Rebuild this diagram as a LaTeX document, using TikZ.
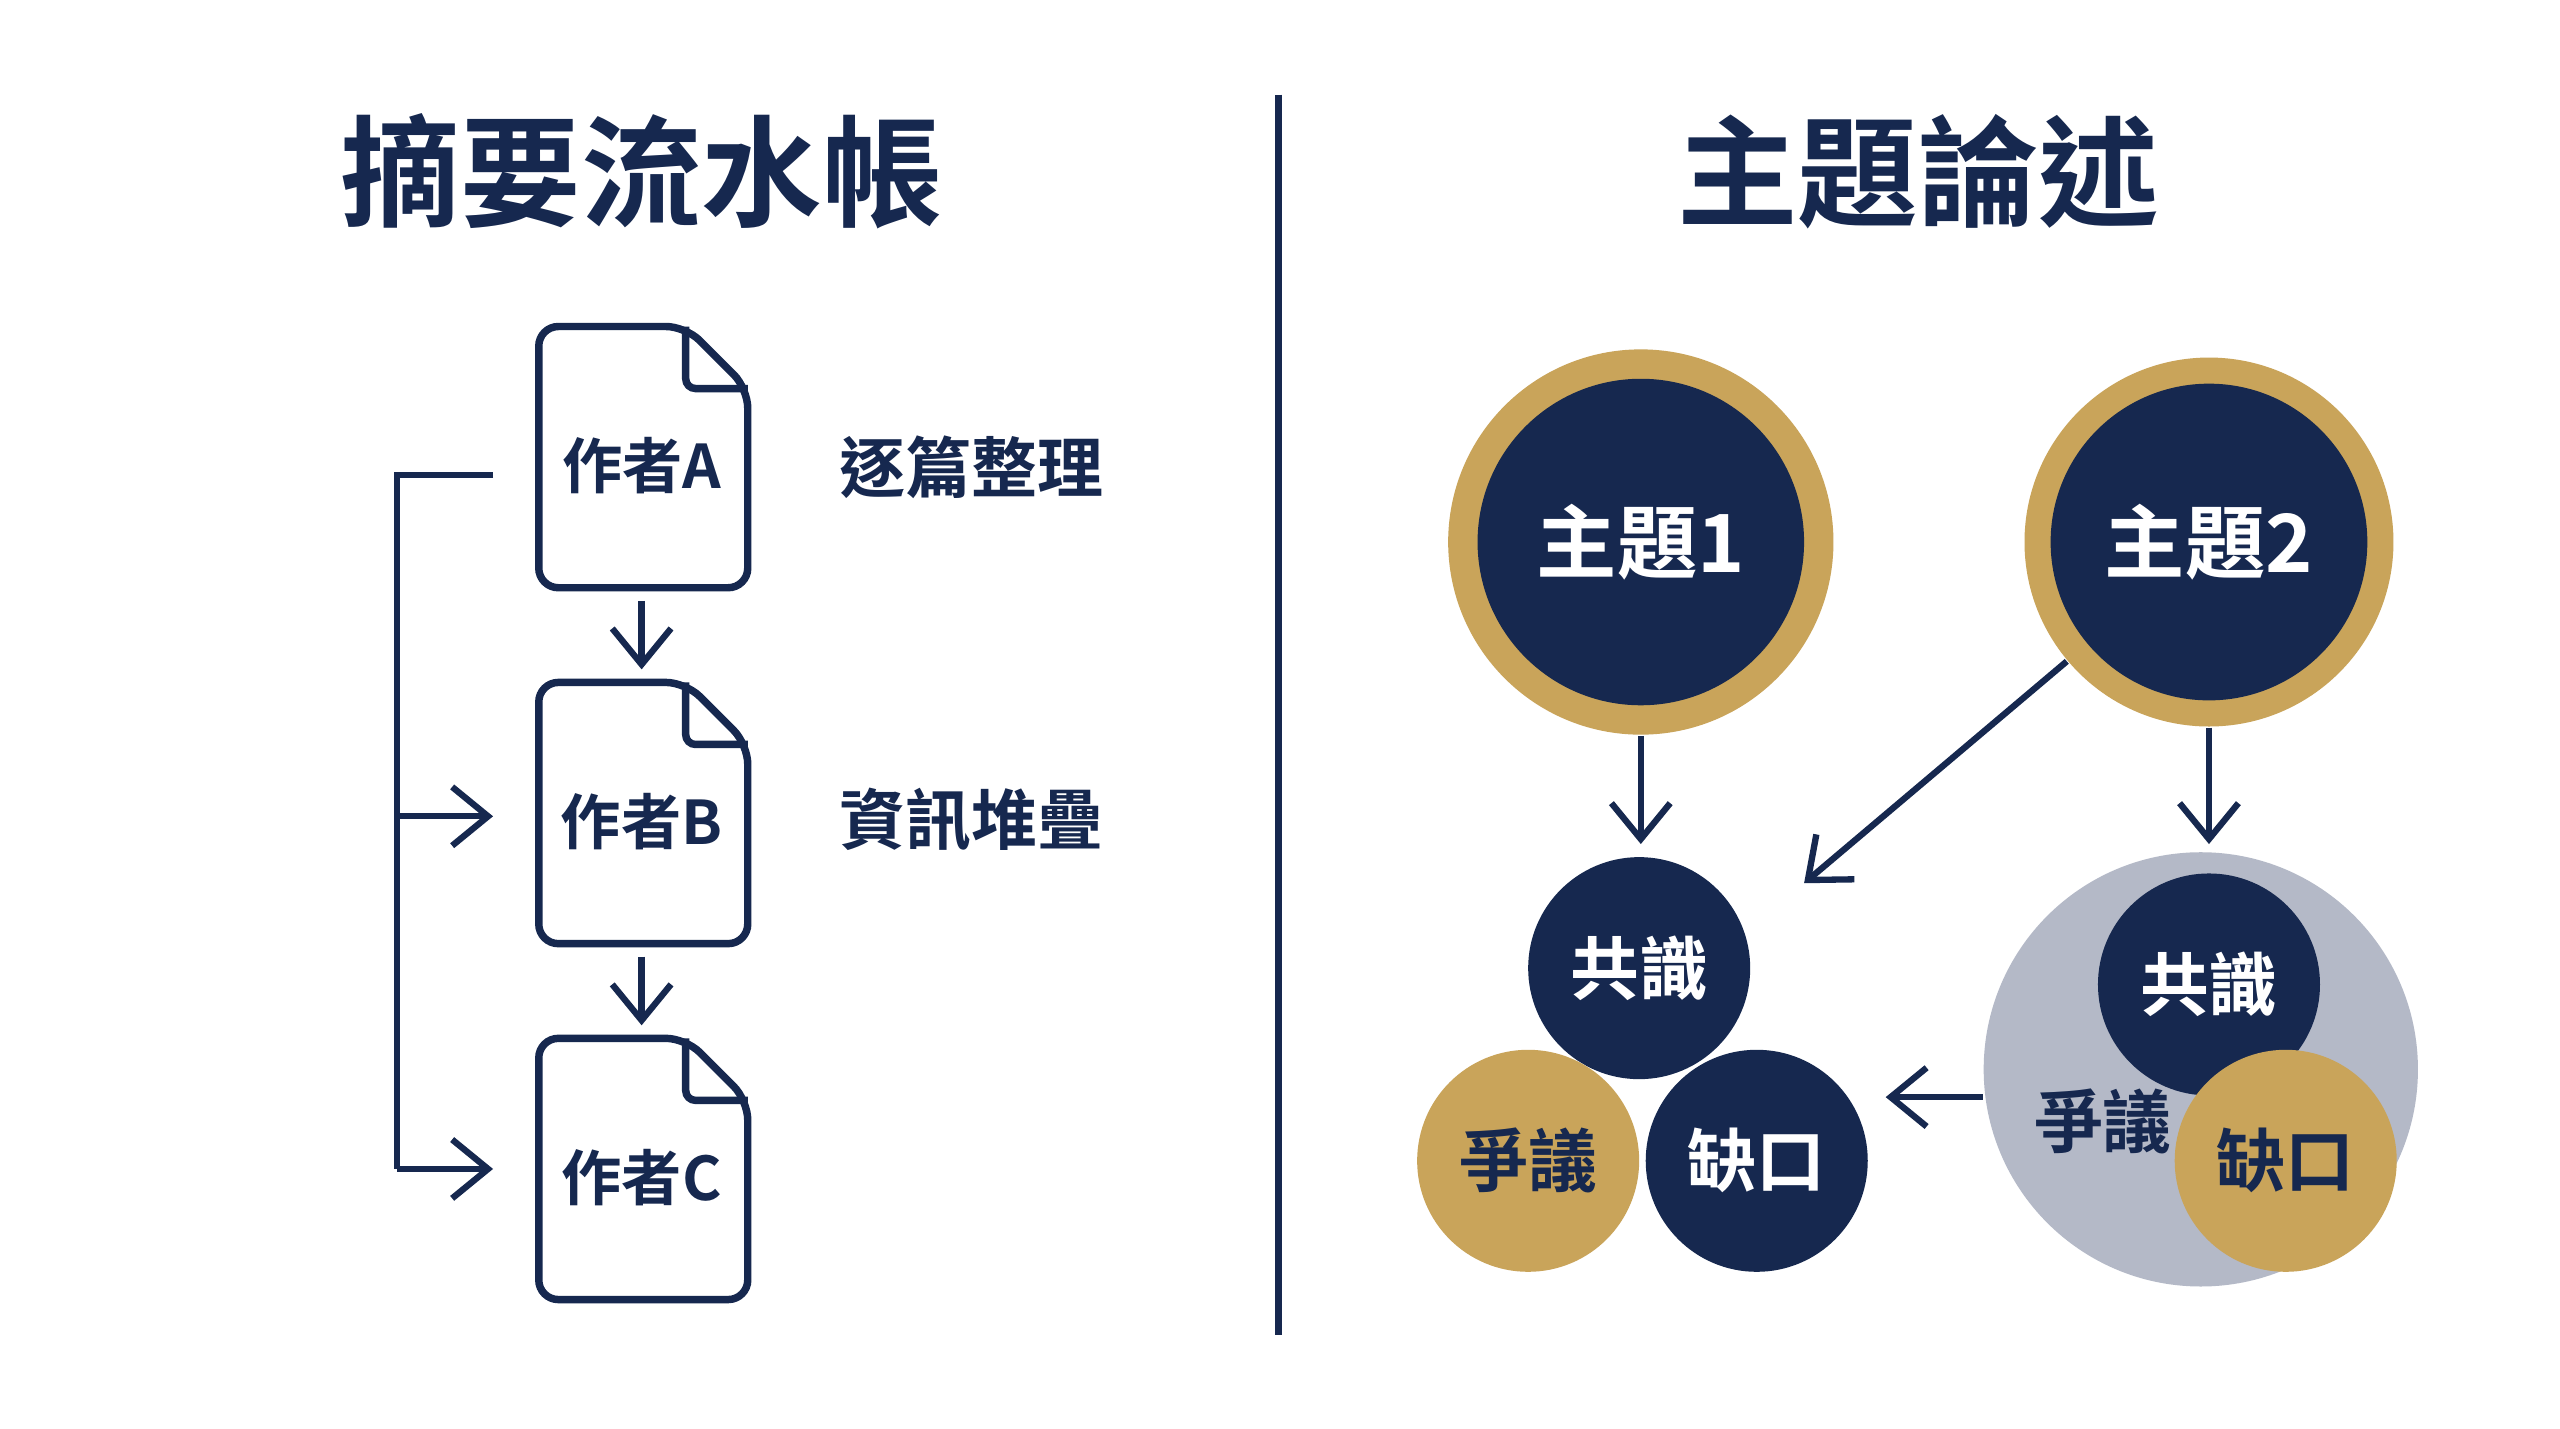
\documentclass[tikz,border=0pt]{standalone}
\usepackage{fontspec}
\newfontfamily\cjk{Noto Sans CJK TC Bold}
\usetikzlibrary{arrows.meta, positioning}
\definecolor{navy}{HTML}{16284F}
\definecolor{gold}{HTML}{C9A45A}
\definecolor{mist}{HTML}{B4B9C7}
\tikzset{
    title/.style={font=\cjk\fontsize{21}{24}\selectfont, text=navy},
    doclabel/.style={font=\cjk\fontsize{10.5}{12}\selectfont, text=navy},
    note/.style={font=\cjk\fontsize{11.5}{13}\selectfont, text=navy},
    arrow/.style={line width=1.1pt, draw=navy, -{Straight Barb[length=2.2mm,width=3.6mm]}},
    bubble/.style={circle, minimum size=1.36cm, inner sep=0pt, font=\cjk\fontsize{12}{14}\selectfont},
    dark/.style={bubble, fill=navy, text=white},
    warm/.style={bubble, fill=gold, text=navy}
}
\newcommand{\docshape}[2]{%
  \draw[navy, line width=1.3pt, rounded corners=1.2mm]
    (330,#1) -- (420,#1) -- (458,#1+38) -- (458,#1+160) -- (330,#1+160) -- cycle;
  \draw[navy, line width=1.3pt, rounded corners=0.6mm]
    (420,#1) -- (420,#1+38) -- (458,#1+38);
  \node[doclabel] (#2) at (393,#1+85) {作者#2};
}
\begin{document}
\begin{tikzpicture}[x=0.1mm, y=-0.1mm]
    \useasboundingbox (0,0) rectangle (1568,875);
    \fill[white] (0,0) rectangle (1568,875);

    % Titles and divider
    \node[title] (T1) at (393,105) {摘要流水帳};
    \node[title] (T2) at (1175,105) {主題論述};
    \draw[navy, line width=1.3pt] (783,58) -- (783,818);

    % Documents
    \docshape{200}{A}
    \docshape{418}{B}
    \docshape{636}{C}
    \coordinate (a1) at (393,368); \coordinate (b0) at (393,410);
    \coordinate (b1) at (393,586); \coordinate (c0) at (393,628);
    \draw[arrow] (a1) -- (b0);
    \draw[arrow] (b1) -- (c0);

    % Bracket
    \coordinate (s0) at (302,291); \coordinate (s1) at (243,291);
    \coordinate (s2) at (243,500); \coordinate (s3) at (243,716);
    \coordinate (eB) at (302,500); \coordinate (eC) at (302,716);
    \draw[navy, line width=1.1pt] (s0) -- (s1) -- (s3);
    \draw[arrow] (s2) -- (eB);
    \draw[arrow] (s3) -- (eC);

    \node[note] (N1) at (595,286) {逐篇整理};
    \node[note] (N2) at (595,502) {資訊堆疊};

    % Themes
    \node[circle, fill=gold, minimum size=2.36cm] (G1) at (1005,332) {};
    \node[dark, minimum size=2cm, font=\cjk\fontsize{14}{16}\selectfont] (M1) at (1005,332) {主題1};
    \node[circle, fill=gold, minimum size=2.26cm] (G2) at (1353,332) {};
    \node[dark, minimum size=1.94cm, font=\cjk\fontsize{14}{16}\selectfont] (M2) at (1353,332) {主題2};

    % Left cluster
    \node[dark] (C1) at (1004,593) {共識};
    \node[warm] (D1) at (936,711) {爭議};
    \node[dark] (K1) at (1076,711) {缺口};

    % Right cluster
    \node[circle, fill=mist, minimum size=2.66cm] (R) at (1348,655) {};
    \node[dark] (C2) at (1353,603) {共識};
    \node[warm] (K2) at (1400,711) {缺口};
    \node[font=\cjk\fontsize{12}{14}\selectfont, text=navy] (D2) at (1288,687) {爭議};

    % Arrows
    \coordinate (t1) at (1005,517); \coordinate (t2) at (1353,517);
    \coordinate (t3) at (1105,541); \coordinate (t4) at (1155,672);
    \draw[arrow] (G1.south) -- (t1);
    \draw[arrow] (G2.south) -- (t2);
    \draw[arrow] (G2.220) -- (t3);
    \draw[arrow] (R.west |- t4) -- (t4);
\end{tikzpicture}
\end{document}
